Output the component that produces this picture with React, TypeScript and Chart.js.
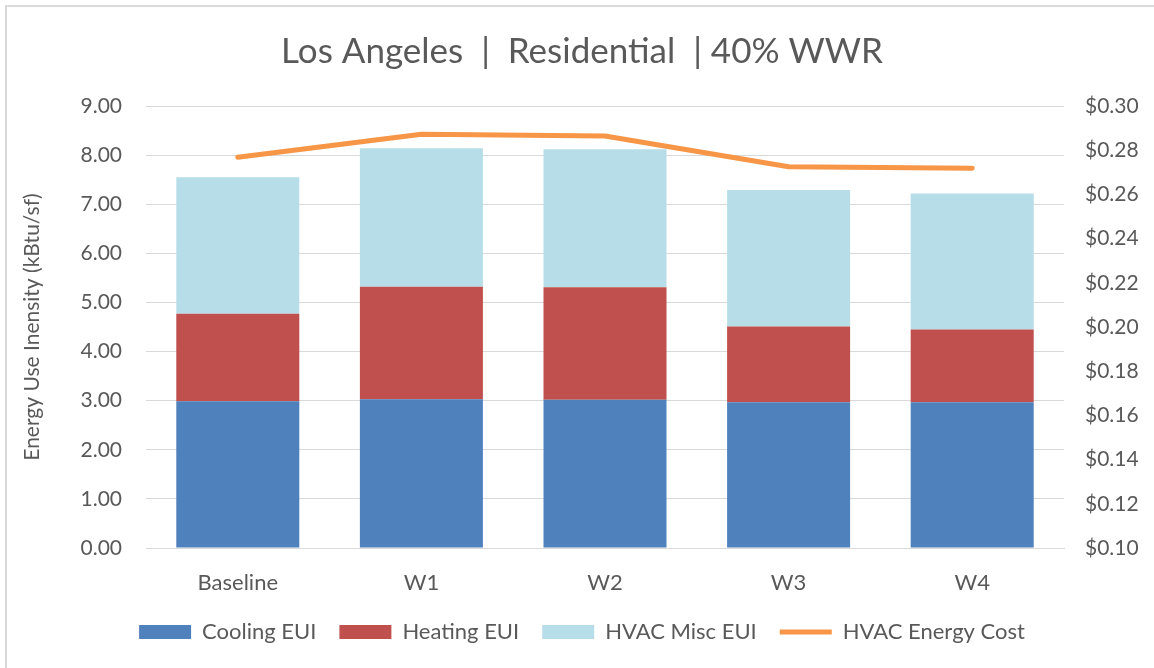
import React, { useEffect, useRef } from "react";
import { Chart, registerables } from "chart.js";

Chart.register(...registerables);

const categories = ["Baseline", "W1", "W2", "W3", "W4"];
const coolingEUI = [2.99, 3.03, 3.02, 2.97, 2.97];
const heatingEUI = [1.78, 2.29, 2.29, 1.54, 1.48];
const hvacMiscEUI = [2.78, 2.82, 2.81, 2.78, 2.77];
const hvacEnergyCost = [0.2768, 0.2872, 0.2864, 0.2725, 0.2718];

const TEXT = "#595959";
const FONT = "Lato, 'Noto Sans', sans-serif";

export default function App() {
  const ref = useRef<HTMLCanvasElement | null>(null);

  useEffect(() => {
    document.body.style.margin = "0";
    const canvas = ref.current;
    if (!canvas) return;
    const chart = new Chart(canvas, {
      type: "bar",
      data: {
        labels: categories,
        datasets: [
          {
            type: "bar",
            label: "Cooling EUI",
            data: coolingEUI,
            backgroundColor: "#4F81BD",
            yAxisID: "y",
            stack: "eui",
            order: 1,
            categoryPercentage: 1,
            barPercentage: 0.67,
          },
          {
            type: "bar",
            label: "Heating EUI",
            data: heatingEUI,
            backgroundColor: "#C0504D",
            yAxisID: "y",
            stack: "eui",
            order: 1,
            categoryPercentage: 1,
            barPercentage: 0.67,
          },
          {
            type: "bar",
            label: "HVAC Misc EUI",
            data: hvacMiscEUI,
            backgroundColor: "#B7DDE8",
            yAxisID: "y",
            stack: "eui",
            order: 1,
            categoryPercentage: 1,
            barPercentage: 0.67,
          },
          {
            type: "line",
            label: "HVAC Energy Cost",
            data: hvacEnergyCost,
            borderColor: "#F79646",
            backgroundColor: "#F79646",
            borderWidth: 5,
            borderCapStyle: "round",
            borderJoinStyle: "round",
            pointRadius: 0,
            pointHoverRadius: 0,
            pointStyle: "line",
            tension: 0,
            fill: false,
            yAxisID: "y1",
            order: 0,
          } as any,
        ],
      },
      options: {
        responsive: false,
        animation: false,
        layout: { padding: { left: 20, right: 10, top: 18, bottom: 15 } },
        plugins: {
          title: {
            display: true,
            text: "Los Angeles  |  Residential  | 40% WWR",
            color: TEXT,
            font: { family: FONT, size: 35, weight: "normal" },
            padding: { top: 13, bottom: 33 },
          },
          legend: {
            position: "bottom",
            labels: {
              color: TEXT,
              font: { family: FONT, size: 22 },
              usePointStyle: true,
              pointStyleWidth: 52,
              boxHeight: 14,
              padding: 23,
              sort: (a: any, b: any) => a.datasetIndex - b.datasetIndex,
              generateLabels: (c: any) => {
                const items = Chart.defaults.plugins.legend.labels.generateLabels(c);
                return items.map((it: any) => {
                  const ds = c.data.datasets[it.datasetIndex];
                  if (ds.type === "line") {
                    return { ...it, pointStyle: "line", lineWidth: 5, strokeStyle: "#F79646" };
                  }
                  return { ...it, pointStyle: "rect", lineWidth: 0 };
                });
              },
            },
          },
          tooltip: { enabled: false },
        },
        scales: {
          x: {
            stacked: true,
            grid: { display: false },
            border: { display: true, color: "#D9D9D9", width: 1 },
            ticks: { color: TEXT, font: { family: FONT, size: 22 }, padding: 14 },
            afterFit: (s: any) => {
              s.height = 50;
            },
          },
          y: {
            stacked: true,
            position: "left",
            min: 0,
            max: 9,
            grid: { color: "#D9D9D9", lineWidth: 1, drawTicks: false },
            border: { display: false },
            ticks: {
              stepSize: 1,
              color: TEXT,
              font: { family: FONT, size: 21 },
              padding: 24,
              callback: (v: any) => Number(v).toFixed(2),
            },
            title: {
              display: true,
              text: "Energy Use Inensity (kBtu/sf)",
              color: TEXT,
              font: { family: FONT, size: 21 },
              padding: { top: 0, bottom: 0 },
            },
            afterFit: (s: any) => {
              s.width = 126;
            },
          },
          y1: {
            position: "right",
            min: 0.1,
            max: 0.3,
            grid: { display: false, drawTicks: false },
            border: { display: false },
            ticks: {
              stepSize: 0.02,
              color: TEXT,
              font: { family: FONT, size: 21 },
              padding: 21,
              callback: (v: any) => "$" + Number(v).toFixed(2),
            },
            afterFit: (s: any) => {
              s.width = 80;
            },
          },
        },
      },
    });
    return () => chart.destroy();
  }, []);

  return (
    <div style={{ position: "relative", width: 1154, height: 668, overflow: "hidden", background: "#fff" }}>
      <canvas ref={ref} width={1154} height={668} style={{ display: "block" }} />
      <div
        style={{
          position: "absolute",
          left: 5,
          top: 5,
          width: 1200,
          height: 700,
          borderLeft: "2px solid #D9D9D9",
          borderTop: "2px solid #D9D9D9",
          pointerEvents: "none",
        }}
      />
    </div>
  );
}
